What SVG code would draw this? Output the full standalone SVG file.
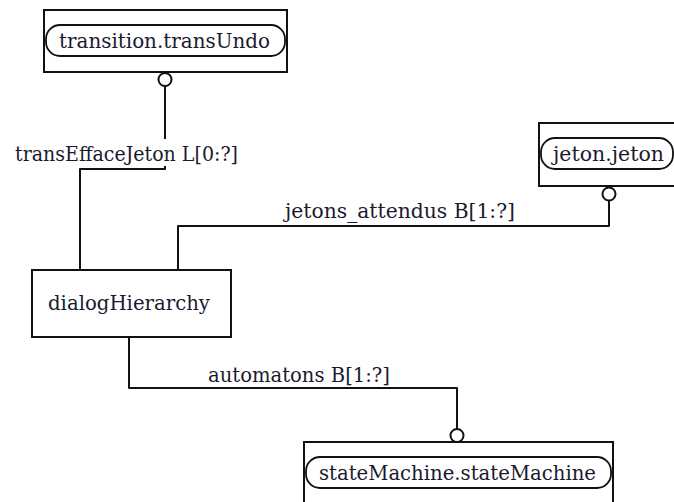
<svg xmlns="http://www.w3.org/2000/svg" width="674" height="502" viewBox="0 0 674 502">
<style>
  .box{fill:#fff;stroke:#111;stroke-width:2}
  .pill{fill:#fff;stroke:#111;stroke-width:1.8}
  .conn{fill:none;stroke:#111;stroke-width:2;stroke-linejoin:round}
  .end{fill:#fff;stroke:#111;stroke-width:2}
  .t{font-family:'DejaVu Serif','Liberation Serif',serif;font-size:20px;fill:#1a1a2e}
</style>
<rect width="674" height="502" fill="#fff"/>
<g id="connectors">
  <path class="conn" d="M165,86 V139 M165,166 V169 H80 V270"/>
  <circle class="end" cx="165" cy="79.5" r="6.5"/>
  <text class="t" x="15" y="161" textLength="223" lengthAdjust="spacingAndGlyphs">transEffaceJeton L[0:?]</text>
  <path class="conn" d="M178,270 V226 H609 V201"/>
  <circle class="end" cx="609" cy="194" r="6.5"/>
  <text class="t" x="285" y="218" textLength="230" lengthAdjust="spacingAndGlyphs">jetons_attendus B[1:?]</text>
  <path class="conn" d="M129,337 V388 H457 V429"/>
  <circle class="end" cx="457" cy="435.5" r="6.5"/>
  <text class="t" x="208" y="381.5" textLength="182" lengthAdjust="spacingAndGlyphs">automatons B[1:?]</text>
</g>
<g id="transition">
  <rect class="box" x="44" y="10" width="243" height="62"/>
  <rect class="pill" x="46" y="25" width="239" height="31" rx="14" ry="14"/>
  <text class="t" x="59" y="47.5" textLength="211" lengthAdjust="spacingAndGlyphs">transition.transUndo</text>
</g>
<g id="jeton">
  <rect class="box" x="539" y="123" width="140" height="63"/>
  <rect class="pill" x="541" y="138" width="132" height="31" rx="14" ry="14"/>
  <text class="t" x="553" y="161" textLength="111" lengthAdjust="spacingAndGlyphs">jeton.jeton</text>
</g>
<g id="dialogHierarchy">
  <rect class="box" x="32" y="270" width="199" height="67"/>
  <text class="t" x="48" y="310" textLength="162" lengthAdjust="spacingAndGlyphs">dialogHierarchy</text>
</g>
<g id="stateMachine">
  <rect class="box" x="304" y="442" width="309" height="70"/>
  <rect class="pill" x="306" y="457" width="305" height="31" rx="14" ry="14"/>
  <text class="t" x="319" y="480" textLength="277" lengthAdjust="spacingAndGlyphs">stateMachine.stateMachine</text>
</g>
</svg>
